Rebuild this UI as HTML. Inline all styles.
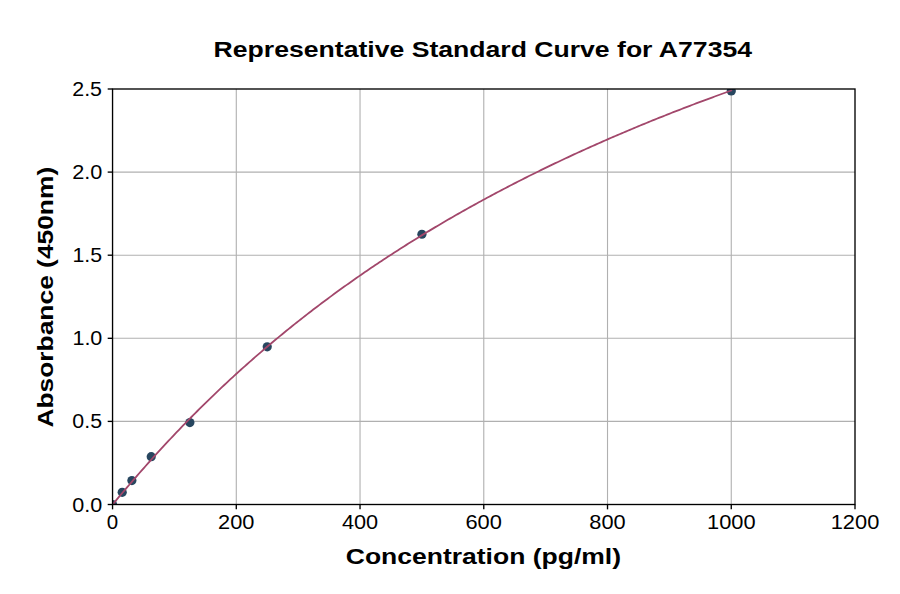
<!DOCTYPE html>
<html><head><meta charset="utf-8"><style>
html,body{margin:0;padding:0;background:#fff;width:900px;height:594px;overflow:hidden}
svg{display:block}
text{font-family:"Liberation Sans",sans-serif;fill:#000}
.g{stroke:#b0b0b0;stroke-width:1.1}
.t{stroke:#000;stroke-width:1.35}
</style></head><body>
<svg width="900" height="594" viewBox="0 0 900 594">
<defs><clipPath id="clip"><rect x="112.55" y="89" width="742.45" height="415.5"/></clipPath></defs>
<rect width="900" height="594" fill="#fff"/>
<line x1="236.292" y1="89" x2="236.292" y2="504.5" class="g"/>
<line x1="360.033" y1="89" x2="360.033" y2="504.5" class="g"/>
<line x1="483.775" y1="89" x2="483.775" y2="504.5" class="g"/>
<line x1="607.517" y1="89" x2="607.517" y2="504.5" class="g"/>
<line x1="731.258" y1="89" x2="731.258" y2="504.5" class="g"/>
<line x1="112.55" y1="421.4" x2="855" y2="421.4" class="g"/>
<line x1="112.55" y1="338.3" x2="855" y2="338.3" class="g"/>
<line x1="112.55" y1="255.2" x2="855" y2="255.2" class="g"/>
<line x1="112.55" y1="172.1" x2="855" y2="172.1" class="g"/>
<g clip-path="url(#clip)" fill="#27465f"><circle cx="112.55" cy="504.5" r="4.6"/><circle cx="122.217" cy="492.367" r="4.6"/><circle cx="131.885" cy="480.567" r="4.6"/><circle cx="151.219" cy="456.634" r="4.6"/><circle cx="189.889" cy="422.563" r="4.6"/><circle cx="267.227" cy="346.776" r="4.6"/><circle cx="421.904" cy="234.259" r="4.6"/><circle cx="731.258" cy="90.994" r="4.6"/></g>
<g clip-path="url(#clip)"><path d="M112.55,504.5 L114.619,502.088 L116.689,499.64 L118.758,497.188 L120.827,494.737 L122.896,492.291 L124.966,489.852 L127.035,487.421 L129.104,484.998 L131.173,482.585 L133.243,480.181 L135.312,477.788 L137.381,475.404 L139.45,473.032 L141.52,470.669 L143.589,468.318 L145.658,465.978 L147.727,463.648 L149.797,461.329 L151.866,459.022 L153.935,456.725 L156.004,454.439 L158.074,452.165 L160.143,449.901 L162.212,447.648 L164.281,445.407 L166.351,443.176 L168.42,440.957 L170.489,438.748 L172.559,436.55 L174.628,434.363 L176.697,432.186 L178.766,430.021 L180.836,427.866 L182.905,425.721 L184.974,423.588 L187.043,421.464 L189.113,419.352 L191.182,417.249 L193.251,415.157 L195.32,413.076 L197.39,411.004 L199.459,408.943 L201.528,406.892 L203.597,404.851 L205.667,402.82 L207.736,400.799 L209.805,398.788 L211.874,396.787 L213.944,394.795 L216.013,392.814 L218.082,390.842 L220.151,388.879 L222.221,386.926 L224.29,384.983 L226.359,383.049 L228.428,381.124 L230.498,379.209 L232.567,377.303 L234.636,375.406 L236.706,373.518 L238.775,371.64 L240.844,369.77 L242.913,367.909 L244.983,366.057 L247.052,364.215 L249.121,362.38 L251.19,360.555 L253.26,358.738 L255.329,356.93 L257.398,355.131 L259.467,353.34 L261.537,351.557 L263.606,349.783 L265.675,348.017 L267.744,346.26 L269.814,344.511 L271.883,342.769 L273.952,341.037 L276.021,339.312 L278.091,337.595 L280.16,335.886 L282.229,334.185 L284.298,332.492 L286.368,330.807 L288.437,329.129 L290.506,327.46 L292.576,325.798 L294.645,324.143 L296.714,322.496 L298.783,320.857 L300.853,319.225 L302.922,317.601 L304.991,315.984 L307.06,314.374 L309.13,312.771 L311.199,311.176 L313.268,309.588 L315.337,308.007 L317.407,306.434 L319.476,304.867 L321.545,303.307 L323.614,301.755 L325.684,300.209 L327.753,298.67 L329.822,297.138 L331.891,295.612 L333.961,294.094 L336.03,292.582 L338.099,291.077 L340.168,289.578 L342.238,288.086 L344.307,286.601 L346.376,285.122 L348.445,283.649 L350.515,282.183 L352.584,280.724 L354.653,279.27 L356.723,277.823 L358.792,276.382 L360.861,274.948 L362.93,273.519 L365,272.097 L367.069,270.681 L369.138,269.271 L371.207,267.867 L373.277,266.469 L375.346,265.076 L377.415,263.69 L379.484,262.31 L381.554,260.935 L383.623,259.567 L385.692,258.204 L387.761,256.846 L389.831,255.495 L391.9,254.149 L393.969,252.809 L396.038,251.474 L398.108,250.145 L400.177,248.822 L402.246,247.504 L404.315,246.191 L406.385,244.884 L408.454,243.582 L410.523,242.286 L412.593,240.995 L414.662,239.709 L416.731,238.429 L418.8,237.153 L420.87,235.883 L422.939,234.619 L425.008,233.359 L427.077,232.104 L429.147,230.855 L431.216,229.61 L433.285,228.371 L435.354,227.137 L437.424,225.907 L439.493,224.683 L441.562,223.463 L443.631,222.248 L445.701,221.038 L447.77,219.833 L449.839,218.633 L451.908,217.438 L453.978,216.247 L456.047,215.061 L458.116,213.879 L460.185,212.703 L462.255,211.531 L464.324,210.363 L466.393,209.2 L468.462,208.042 L470.532,206.888 L472.601,205.739 L474.67,204.594 L476.74,203.453 L478.809,202.317 L480.878,201.186 L482.947,200.059 L485.017,198.936 L487.086,197.817 L489.155,196.703 L491.224,195.593 L493.294,194.487 L495.363,193.386 L497.432,192.288 L499.501,191.195 L501.571,190.106 L503.64,189.021 L505.709,187.941 L507.778,186.864 L509.848,185.791 L511.917,184.723 L513.986,183.658 L516.055,182.598 L518.125,181.541 L520.194,180.489 L522.263,179.44 L524.332,178.395 L526.402,177.354 L528.471,176.317 L530.54,175.284 L532.61,174.255 L534.679,173.229 L536.748,172.208 L538.817,171.19 L540.887,170.175 L542.956,169.165 L545.025,168.158 L547.094,167.155 L549.164,166.155 L551.233,165.159 L553.302,164.167 L555.371,163.179 L557.441,162.194 L559.51,161.212 L561.579,160.234 L563.648,159.26 L565.718,158.289 L567.787,157.321 L569.856,156.358 L571.925,155.397 L573.995,154.44 L576.064,153.486 L578.133,152.536 L580.202,151.589 L582.272,150.646 L584.341,149.706 L586.41,148.769 L588.479,147.835 L590.549,146.905 L592.618,145.978 L594.687,145.054 L596.757,144.134 L598.826,143.217 L600.895,142.303 L602.964,141.392 L605.034,140.484 L607.103,139.58 L609.172,138.679 L611.241,137.78 L613.311,136.885 L615.38,135.993 L617.449,135.104 L619.518,134.218 L621.588,133.336 L623.657,132.456 L625.726,131.579 L627.795,130.705 L629.865,129.834 L631.934,128.967 L634.003,128.102 L636.072,127.24 L638.142,126.381 L640.211,125.525 L642.28,124.672 L644.349,123.821 L646.419,122.974 L648.488,122.129 L650.557,121.288 L652.627,120.449 L654.696,119.613 L656.765,118.779 L658.834,117.949 L660.904,117.121 L662.973,116.296 L665.042,115.474 L667.111,114.654 L669.181,113.838 L671.25,113.023 L673.319,112.212 L675.388,111.403 L677.458,110.597 L679.527,109.794 L681.596,108.993 L683.665,108.195 L685.735,107.399 L687.804,106.606 L689.873,105.816 L691.942,105.028 L694.012,104.243 L696.081,103.46 L698.15,102.68 L700.219,101.903 L702.289,101.127 L704.358,100.355 L706.427,99.585 L708.496,98.817 L710.566,98.052 L712.635,97.289 L714.704,96.529 L716.774,95.771 L718.843,95.016 L720.912,94.263 L722.981,93.512 L725.051,92.764 L727.12,92.018 L729.189,91.274 L731.258,90.533" fill="none" stroke="#a2476b" stroke-width="1.8" stroke-linejoin="round" stroke-linecap="square"/></g>
<rect x="112.55" y="89" width="742.45" height="415.5" fill="none" stroke="#000" stroke-width="1.35"/>
<line x1="112.55" y1="504.5" x2="112.55" y2="509.36" class="t"/>
<line x1="236.292" y1="504.5" x2="236.292" y2="509.36" class="t"/>
<line x1="360.033" y1="504.5" x2="360.033" y2="509.36" class="t"/>
<line x1="483.775" y1="504.5" x2="483.775" y2="509.36" class="t"/>
<line x1="607.517" y1="504.5" x2="607.517" y2="509.36" class="t"/>
<line x1="731.258" y1="504.5" x2="731.258" y2="509.36" class="t"/>
<line x1="855" y1="504.5" x2="855" y2="509.36" class="t"/>
<line x1="107.69" y1="504.5" x2="112.55" y2="504.5" class="t"/>
<line x1="107.69" y1="421.4" x2="112.55" y2="421.4" class="t"/>
<line x1="107.69" y1="338.3" x2="112.55" y2="338.3" class="t"/>
<line x1="107.69" y1="255.2" x2="112.55" y2="255.2" class="t"/>
<line x1="107.69" y1="172.1" x2="112.55" y2="172.1" class="t"/>
<line x1="107.69" y1="89" x2="112.55" y2="89" class="t"/>
<text transform="matrix(1.045,0,0,1,72.345,511.58)" font-size="20.668">0.0</text>
<text transform="matrix(1.033,0,0,1,72.356,428.48)" font-size="20.668">0.5</text>
<text transform="matrix(1.043,0,0,1,72.401,345.38)" font-size="20.668">1.0</text>
<text transform="matrix(1.034,0,0,1,72.422,262.28)" font-size="20.603">1.5</text>
<text transform="matrix(1.049,0,0,1,72.241,179.18)" font-size="20.668">2.0</text>
<text transform="matrix(1.036,0,0,1,72.254,96.08)" font-size="20.668">2.5</text>
<text transform="matrix(0.992,0,0,1,106.846,529)" font-size="20.668">0</text>
<text transform="matrix(1.054,0,0,1,218.064,529)" font-size="20.668">200</text>
<text transform="matrix(1.05,0,0,1,341.928,529)" font-size="20.668">400</text>
<text transform="matrix(1.056,0,0,1,465.468,529)" font-size="20.668">600</text>
<text transform="matrix(1.053,0,0,1,589.335,529)" font-size="20.668">800</text>
<text transform="matrix(1.056,0,0,1,706.99,529)" font-size="20.668">1000</text>
<text transform="matrix(1.056,0,0,1,830.731,529)" font-size="20.668">1200</text>
<text transform="matrix(1.177,0,0,1,213.606,56.9)" font-size="22.601" font-weight="bold">Representative Standard Curve for A77354</text>
<text transform="matrix(1.173,0,0,1,345.737,563.6)" font-size="22.601" font-weight="bold">Concentration (pg/ml)</text>
<text transform="matrix(0,-1.167,1,0,52.9,427.557)" font-size="22.601" font-weight="bold">Absorbance (450nm)</text>
</svg></body></html>
